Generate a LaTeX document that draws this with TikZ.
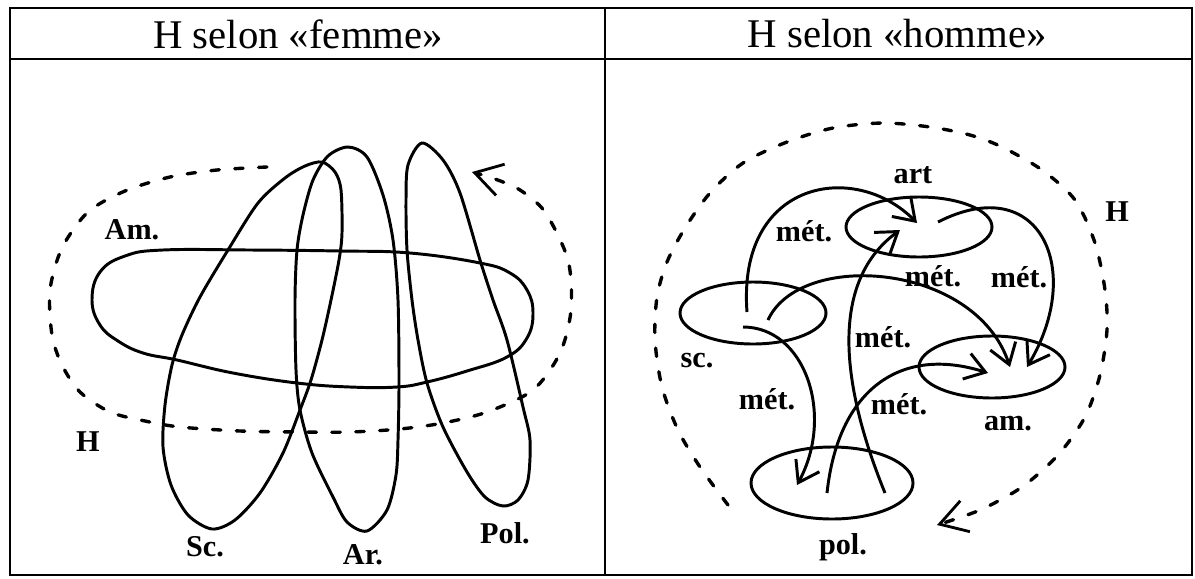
\documentclass[tikz,border=0pt]{standalone}
\usepackage{fontspec}
\setmainfont{Liberation Serif}
\usetikzlibrary{arrows.meta,shapes.geometric}

\begin{document}
\begin{tikzpicture}[x=0.25mm, y=-0.25mm,
	every node/.style={font=\fontsize{21.5}{23}\selectfont\bfseries},
	title/.style={font=\fontsize{29}{30}\selectfont},
	loop/.style={line width=2.1pt},
	hloop/.style={line width=2.4pt, line cap=round, dash pattern=on 6pt off 11pt,
		-{Straight Barb[length=19pt,width=23pt,line width=2pt]}},
	dom/.style={draw, ellipse, line width=2.1pt, inner sep=0pt},
	met/.style={line width=2.1pt, -{Straight Barb[length=14pt,width=19pt]}}]
	\useasboundingbox (0,0) rectangle (1195,578);
	% frame and titles
	\draw[line width=2pt] (10,8) rectangle (1192,575);
	\draw[line width=2pt] (10,59) -- (1192,59);
	\draw[line width=2pt] (605,8) -- (605,575);
	\node[title] (tfem) at (298,34) {H selon «femme»};
	\node[title] (thom) at (897,34) {H selon «homme»};

	% left: H selon femme
	\draw[hloop] plot[smooth] coordinates {(267,167) (217,170) (170,177) (125,191) (88,212)
		(62,248) (50,290) (52,335) (62,365) (80,392) (110,412) (145,421) (180,427) (240,431)
		(300,432) (350,432) (400,429) (443,423) (487,412) (533,390) (560,353) (571,310)
		(568,260) (545,212) (520,190) (495,179) (472,172)};
	\draw[loop] plot[smooth cycle, tension=0.7] coordinates {(92,300) (100,272) (125,256)
		(163,250) (250,250) (340,251) (410,253) (480,263) (510,273) (527,290) (533,313)
		(527,338) (507,357) (467,371) (427,382) (397,387) (350,387) (297,383) (233,373)
		(177,360) (143,353) (118,341) (100,325)};
	\draw[loop] plot[smooth cycle] coordinates {(322,162) (335,172) (341,190) (342,233) (339,260)
		(331,300) (322,340) (311,380) (300,410) (283,453) (260,493) (235,520) (212,529)
		(188,515) (171,485) (163,447) (165,405) (172,365) (182,335) (200,297) (228,250)
		(258,203) (285,178) (305,166)};
	\draw[loop] plot[smooth cycle] coordinates {(348,147) (367,157) (383,195) (393,240) (398,300)
		(399,383) (398,440) (396,475) (387,510) (367,531) (347,522) (333,497) (312,453)
		(300,410) (296,370) (295,300) (297,250) (303,215) (313,180) (328,156)};
	\draw[loop] plot[smooth cycle] coordinates {(422,143) (443,160) (460,193) (480,260) (493,300)
		(507,340) (523,407) (530,440) (528,480) (518,500) (503,506) (485,497) (467,472)
		(443,427) (427,383) (418,340) (412,300) (407,250) (406,200) (408,165)};
	\node (amL) at (132,230) {Am.};
	\node (hL) at (88,442) {H};
	\node (scL) at (205,547) {Sc.};
	\node (arL) at (363,555) {Ar.};
	\node (polL) at (505,533) {Pol.};

	% right: H selon homme
	\draw[hloop] plot[smooth] coordinates {(728,505) (700,467) (678,430) (662,387) (655,340)
		(657,297) (667,262) (685,228) (710,193) (743,163) (787,142) (833,128) (883,123)
		(930,127) (970,135) (1002,147) (1042,170) (1075,200) (1095,243) (1105,290)
		(1107,330) (1100,375) (1085,417) (1058,455) (1022,487) (980,510) (937,525)};
	\node[dom, minimum width=36.5mm, minimum height=15mm] (art) at (919,227) {};
	\node[dom, minimum width=36.5mm, minimum height=15.5mm] (sc) at (753,313) {};
	\node[dom, minimum width=36.5mm, minimum height=15.5mm] (am) at (992,367) {};
	\node[dom, minimum width=40.5mm, minimum height=18mm] (pol) at (832,483) {};
	\node (artR) at (913,175) {art};
	\node (scR) at (697,361) {sc.};
	\node (amR) at (1008,424) {am.};
	\node (polR) at (843,547) {pol.};
	\node (hR) at (1117,212) {H};
	% ends of the arrows
	\coordinate (sc1) at (747,312);
	\coordinate (sc2) at (768,320);
	\coordinate (sc3) at (743,327);
	\coordinate (art1) at (917,223);
	\coordinate (art2) at (938,222);
	\coordinate (art3) at (900,230);
	\coordinate (am1) at (1010,367);
	\coordinate (am2) at (1027,367);
	\coordinate (am3) at (988,373);
	\coordinate (pol1) at (797,485);
	\coordinate (pol2) at (885,493);
	\coordinate (pol3) at (827,493);
	\draw[met] (sc1) .. controls (737,180) and (855,160) .. (art1);
	\draw[met] (art2) .. controls (1040,170) and (1085,270) .. (am2);
	\draw[met] (sc2) .. controls (800,250) and (975,262) .. (am1);
	\draw[met] (sc3) .. controls (805,327) and (835,415) .. (pol1);
	\draw[met] (pol2) .. controls (845,395) and (825,285) .. (art3);
	\draw[met] (pol3) .. controls (838,390) and (900,345) .. (am3);
	\node (met1) at (804,231) {mét.};
	\node (met2) at (933,276) {mét.};
	\node (met3) at (1019,277) {mét.};
	\node (met4) at (883,337) {mét.};
	\node (met5) at (767,399) {mét.};
	\node (met6) at (899,404) {mét.};
\end{tikzpicture}
\end{document}
